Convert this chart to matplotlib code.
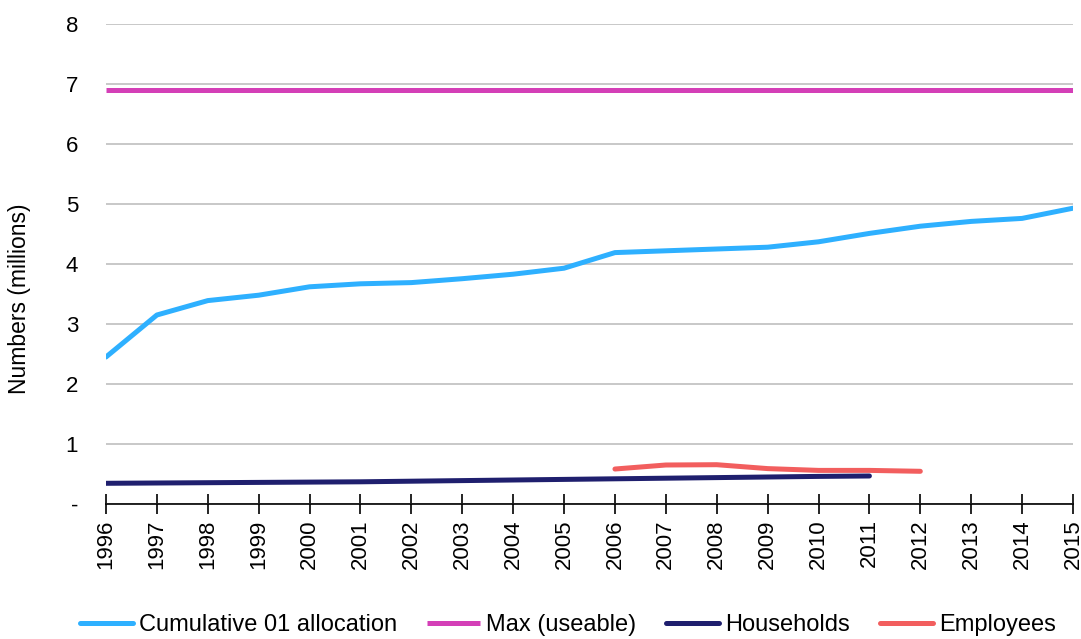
import matplotlib
matplotlib.use("Agg")
import matplotlib.pyplot as plt

plt.rcParams['font.family'] = ['Liberation Sans', 'DejaVu Sans']

years = list(range(1996, 2016))
cumulative = [2.45, 3.15, 3.39, 3.48, 3.62, 3.67, 3.69, 3.755, 3.83, 3.93,
              4.19, 4.22, 4.25, 4.28, 4.37, 4.51, 4.63, 4.71, 4.76, 4.93]
max_useable = [6.9] * 20
hh_years = list(range(1996, 2012))
households = [0.345, 0.35, 0.355, 0.36, 0.365, 0.37, 0.38, 0.39, 0.40, 0.41,
              0.42, 0.43, 0.44, 0.45, 0.46, 0.467]
emp_years = list(range(2006, 2013))
employees = [0.583, 0.65, 0.655, 0.59, 0.56, 0.56, 0.545]
ytick_labels = ['-', '1', '2', '3', '4', '5', '6', '7', '8']

fig = plt.figure(figsize=(10.81, 6.39), dpi=100)
ax = fig.add_axes([106/1081, 1-504/639, (1073-106)/1081, 480/639])

lw = 3.6
ax.plot(years, cumulative, color='#2EB0FF', lw=lw, label='Cumulative 01 allocation',
        solid_capstyle='round', zorder=3)
ax.plot(years, max_useable, color='#D43FB7', lw=lw, label='Max (useable)',
        solid_capstyle='butt', zorder=3)
ax.plot(hh_years, households, color='#1F1F6E', lw=lw, label='Households',
        solid_capstyle='round', zorder=3)
ax.plot(emp_years, employees, color='#F25E5E', lw=lw, label='Employees',
        solid_capstyle='round', zorder=3)

ax.set_xlim(1996, 2015)
ax.set_ylim(0, 8)
ax.set_yticks(range(0, 9))
ax.set_yticklabels(ytick_labels)
ax.set_xticks(years)
ax.set_xticklabels([str(y) for y in years], rotation=90)
ax.yaxis.grid(True, color='#BFBFBF', lw=1.2)
ax.set_axisbelow(True)
for s in ['left', 'right', 'top']:
    ax.spines[s].set_visible(False)
ax.spines['bottom'].set_color('black')
ax.spines['bottom'].set_linewidth(1.2)
ax.spines['bottom'].set_zorder(4)
ax.tick_params(axis='y', length=0, pad=20, labelsize=16)
ax.tick_params(axis='x', direction='inout', length=14, width=1.2, labelsize=16, pad=4)
fig.text(20/1081, 1-299/639, 'Numbers (millions)', rotation=90, fontsize=16.5,
         ha='center', va='center')

leg = fig.legend(loc='center', bbox_to_anchor=(568/1081, 1-625/639), ncol=4,
                 frameon=False, fontsize=17, handlelength=2.25, handletextpad=0.25,
                 columnspacing=1.27)

fig.savefig('out.png', dpi=100)
